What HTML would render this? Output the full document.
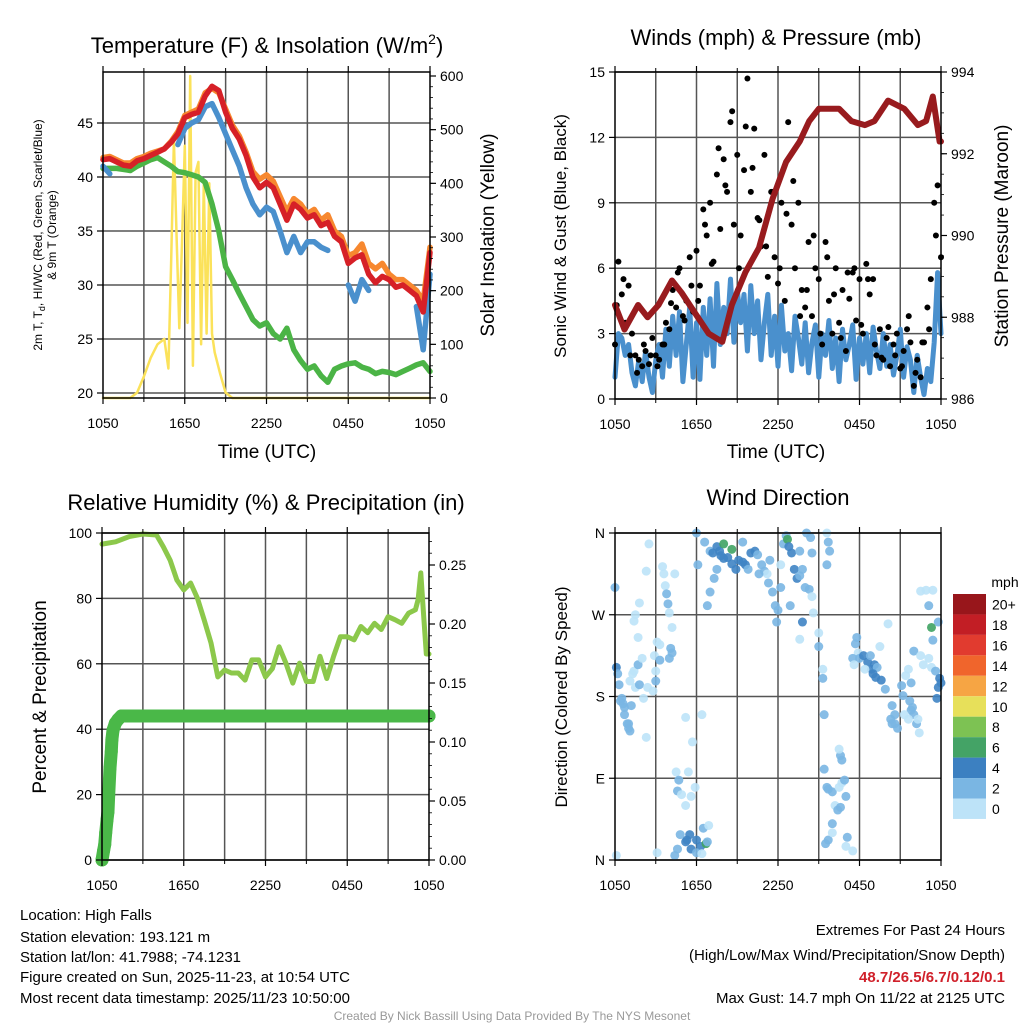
<!DOCTYPE html>
<html><head><meta charset="utf-8"><style>
html,body{margin:0;padding:0;background:#fff;}
svg{display:block;font-family:"Liberation Sans",sans-serif;}
</style></head><body>
<svg id="chart" width="1024" height="1024" viewBox="0 0 1024 1024">
<rect width="1024" height="1024" fill="#fff"/>
<g id="grids"></g>
<g id="series"></g>
<g id="frames"></g>
<g id="labels" fill="#000">
<text x="267" y="53" font-size="22" text-anchor="middle">Temperature (F) &amp; Insolation (W/m<tspan font-size="14" dy="-9">2</tspan><tspan dy="9">)</tspan></text>
<text x="776" y="45" font-size="22" text-anchor="middle">Winds (mph) &amp; Pressure (mb)</text>
<text x="266" y="510" font-size="22" text-anchor="middle">Relative Humidity (%) &amp; Precipitation (in)</text>
<text x="778" y="505" font-size="22" text-anchor="middle">Wind Direction</text>
<text transform="translate(42,235) rotate(-90)" font-size="12" text-anchor="middle">2m T, T<tspan font-size="9" dy="3">d</tspan><tspan dy="-3">, HI/WC (Red, Green, Scarlet/Blue)</tspan></text>
<text transform="translate(56,235) rotate(-90)" font-size="12" text-anchor="middle">&amp; 9m T (Orange)</text>
<text transform="translate(494,235) rotate(-90)" font-size="19" text-anchor="middle">Solar Insolation (Yellow)</text>
<text x="267" y="458" font-size="19" text-anchor="middle">Time (UTC)</text>
<text x="776" y="458" font-size="19" text-anchor="middle">Time (UTC)</text>
<text transform="translate(566,236) rotate(-90)" font-size="17" text-anchor="middle">Sonic Wind &amp; Gust (Blue, Black)</text>
<text transform="translate(1008,236) rotate(-90)" font-size="19" text-anchor="middle">Station Pressure (Maroon)</text>
<text transform="translate(46,697) rotate(-90)" font-size="19" text-anchor="middle">Percent &amp; Precipitation</text>
<text transform="translate(567,697) rotate(-90)" font-size="17" text-anchor="middle">Direction (Colored By Speed)</text>
<g font-size="15">
<text x="20" y="920">Location: High Falls</text>
<text x="20" y="942">Station elevation: 193.121 m</text>
<text x="20" y="962">Station lat/lon: 41.7988; -74.1231</text>
<text x="20" y="982">Figure created on Sun, 2025-11-23, at 10:54 UTC</text>
<text x="20" y="1003">Most recent data timestamp: 2025/11/23 10:50:00</text>
</g>
<g font-size="15" text-anchor="end">
<text x="1005" y="935">Extremes For Past 24 Hours</text>
<text x="1005" y="960">(High/Low/Max Wind/Precipitation/Snow Depth)</text>
<text x="1005" y="982" fill="#d0202a" font-weight="bold">48.7/26.5/6.7/0.12/0.1</text>
<text x="1005" y="1003">Max Gust: 14.7 mph On 11/22 at 2125 UTC</text>
</g>
<text x="512" y="1020" font-size="12" fill="#999" text-anchor="middle">Created By Nick Bassill Using Data Provided By The NYS Mesonet</text>
</g>
</svg>
<script>
// ---------- data ----------
var xTickLabels = ["1050","1650","2250","0450","1050"];
var half = [0,0.5,1,1.5,2,2.5,3,3.5,4,4.5,5,5.5,6,6.5,7,7.5,8,8.5,9,9.5,10,10.5,11,11.5,12,12.5,13,13.5,14,14.5,15,15.5,16,16.5,17,17.5,18,18.5,19,19.5,20,20.5,21,21.5,22,22.5,23,23.5,24];
var tempRed = [41.6,41.7,41.4,41.1,41.0,41.5,41.7,42.0,42.3,42.6,43.2,44.0,45.5,45.8,46.0,47.5,48.4,48.0,46.0,44.5,43.5,42.0,40.0,39.0,39.5,39.0,37.5,36.0,37.5,37.0,36.2,36.5,35.5,35.8,34.5,34.0,32.0,32.5,32.8,31.0,30.2,30.8,30.5,29.8,30.0,29.5,29.0,27.5,33.0];
var temp9m = [41.8,41.9,41.6,41.3,41.3,41.7,41.9,42.2,42.4,42.6,43.3,44.2,45.7,46.0,46.3,47.8,48.2,47.8,46.3,44.8,43.8,42.3,40.5,39.8,40.2,39.6,38.2,36.8,38.0,37.5,36.6,37.0,36.0,36.5,35.0,34.5,32.7,33.0,33.8,32.0,31.5,32.0,31.0,30.5,30.5,30.0,29.5,28.5,33.5];
var windChill = [41.0,40.3,null,null,null,null,null,null,null,null,null,43.0,44.5,45.0,45.3,46.5,46.8,45.5,44.0,42.5,41.0,39.0,37.5,36.5,37.2,36.8,35.0,33.0,34.5,33.0,34.0,34.0,33.5,33.2,null,null,30.0,28.5,30.5,29.5,null,null,null,28.5,null,null,28.0,24.0,31.0];
var dewpoint = [40.8,40.8,40.8,40.7,40.6,41.0,41.3,41.6,41.8,41.4,41.0,40.5,40.4,40.2,40.0,39.5,37.5,35,31.7,30.5,29.2,28,26.8,26.2,26.5,25.5,25.0,26.0,24.0,23.0,22.2,22.5,21.6,21.0,22.2,22.5,22.7,22.8,22.4,22.2,21.8,22.0,21.9,21.7,22.0,22.3,22.6,22.8,22.0];
var solarT = [0,2,2.5,3,3.5,4,4.5,4.8,5.0,5.2,5.4,5.6,5.8,6.0,6.2,6.4,6.6,6.8,7.0,7.2,7.4,7.6,7.8,8.0,8.2,8.6,9.0,9.5,10,24];
var solar = [0,0,10,40,75,100,110,55,250,480,300,130,290,470,140,600,60,420,440,100,400,120,400,120,85,45,10,0,0,0];
var tempTicks = [20,25,30,35,40,45];
var solarTicks = [0,100,200,300,400,500,600];

var sonic = [1.0,3.0,2.8,2.0,2.5,1.2,0.6,1.8,0.8,2.2,1.0,0.3,1.8,2.5,1.0,3.2,1.5,3.8,2.0,4.0,0.8,2.5,4.2,1.0,3.5,0.9,4.2,2.0,4.6,1.5,5.3,2.5,4.2,3.0,5.5,2.6,5.0,3.5,4.8,2.2,5.2,3.0,4.5,1.8,3.5,4.8,2.0,3.8,1.5,4.3,2.2,3.0,1.3,3.8,2.8,1.6,3.5,1.2,2.6,3.4,1.0,3.0,2.0,3.6,1.4,2.8,0.8,3.2,1.8,2.5,3.4,0.9,2.8,1.6,3.0,1.2,3.3,2.2,1.4,3.0,1.5,2.5,1.1,2.0,3.2,1.0,2.4,1.8,0.3,2.0,1.0,0.2,1.4,0.8,2.6,5.8,3.0];
var gust = [2.5,6.3,4.8,3.5,5.2,3.0,2.0,1.8,1.5,2.2,1.6,2.8,2.0,1.8,2.5,3.5,3.2,5.0,4.2,6.0,3.8,4.5,6.5,4.0,6.8,5.2,8.7,7.5,9.0,6.3,10.3,7.8,11.0,9.5,12.7,8.0,11.2,7.5,10.5,14.7,9.5,12.4,8.3,7.0,11.2,5.6,9.5,6.5,5.3,9.0,4.5,12.7,8.0,6.0,9.0,5.0,4.2,7.2,3.8,6.0,5.5,2.5,7.2,4.5,3.0,6.0,3.5,5.0,2.2,4.6,5.8,3.6,5.5,3.0,6.2,4.8,5.5,2.0,3.2,1.8,2.8,1.5,2.5,3.0,1.4,2.2,3.2,2.6,0.6,1.8,1.0,2.6,4.2,5.5,9.0,9.8,6.5];
var gustB = [4.3,5.5,2.0,1.2,2.5,2.0,1.5,2.5,4.4,5.8,3.6,5.2,4.5,8.0,6.2,11.5,9.8,13.2,6.0,12.5,10.6,8.2,7.0,9.5,6.0,8.5,10.0,3.8,5.0,7.5,3.0,6.5,4.8,2.8,5.8,6.0,3.4,5.5,2.5,1.9,3.3,2.0,1.5,3.8,1.2,2.6,3.2,7.5];
var presT = [0,0.7,1.7,2.4,3.2,4.2,4.9,5.9,6.9,7.9,8.6,9.6,10.6,11.6,12.6,13.6,14.3,15.0,16.5,17.4,18.4,19.1,20.1,21.3,22.3,22.9,23.4,23.9,24];
var pressure = [988.3,987.7,988.3,988.0,988.3,988.9,988.6,988.1,987.6,987.4,988.3,989.1,989.7,990.9,991.8,992.3,992.8,993.1,993.1,992.8,992.7,992.8,993.3,993.1,992.7,992.8,993.4,992.3,992.3];
var windTicks = [0,3,6,9,12,15];
var presTicks = [986,988,990,992,994];

var rhT = [0,1,2,3,4,4.5,5,5.5,6,6.5,7,7.5,8,8.5,9,9.5,10,10.5,11,11.5,12,12.5,13,13.5,14,14.5,15,15.5,16,16.5,17,17.5,18,18.5,19,19.5,20,20.5,21,21.5,22,22.5,23,23.2,23.4,23.6,23.8,24];
var rh = [96.6,97.3,98.9,99.7,99.4,95.8,91.7,85.6,82.6,84.7,80.1,73.4,66.4,56,58.1,57.2,57.2,55,61.2,61.2,56,58.5,65.2,60.2,54.1,60.2,54.6,54.6,62.3,55.5,62.3,68.3,68.3,67.3,71.4,69.5,72.4,70.5,74.4,73.5,72.4,75.5,76.5,79.6,87.8,75,63,63];
var precipT = [0,0.12,0.2,0.27,0.37,0.44,0.49,0.59,0.68,0.73,0.81,0.98,1.17,1.42,24];
var precip = [0,0.008,0.013,0.023,0.034,0.041,0.055,0.078,0.092,0.102,0.110,0.116,0.119,0.122,0.122];
var rhTicks = [0,20,40,60,80,100];
var precipTicks = [0,0.05,0.10,0.15,0.20,0.25];
var precipTickLabels = ["0.00","0.05","0.10","0.15","0.20","0.25"];

var dirTickLabels = ["N","E","S","W","N"];
var dirTickVals = [0,90,180,270,360];
var dirT = [0,0.1,0.2,0.3,0.5,0.6,0.7,0.9,1.0,1.2,1.1,1.3,1.4,1.5,1.7,1.8,2.0,1.7,1.5,1.4,1.8,2.3,2.5,2.4,2.1,2.8,2.9,3.0,3.1,3.3,3.5,3.6,3.7,3.8,3.9,4.0,4.2,4.4,4.1,4.0,4.2,3.3,3.0,
4.5,4.7,4.6,4.9,5.4,5.6,5.2,5.9,4.8,5.3,5.2,5.5,5.6,6.0,6.3,6.5,6.7,6.8,6.9,6.0,4.6,4.4,6.4,3.1,0.1,
0.4,0.7,1.0,1.1,2.3,5.2,6.4,5.7,
6.0,6.6,6.1,7.0,7.2,7.5,7.7,7.8,8.0,8.3,8.6,8.9,9.1,9.4,9.6,9.8,10.0,10.3,10.5,10.8,11.0,11.3,11.6,11.8,12.0,11.9,11.4,11.2,8.0,8.6,7.5,7.3,7.0,6.8,9.4,10.6,12.2,12.4,12.6,12.7,12.8,13.0,13.2,13.4,13.6,13.8,13.6,14.1,14.4,14.5,14.0,14.3,14.5,14.6,13.8,13.6,12.9,12.2,
15.0,15.0,15.3,15.3,15.4,15.6,15.7,15.8,15.6,
15.4,15.6,15.7,16.0,16.2,16.4,16.6,16.5,16.7,16.9,16.7,16.6,16.5,17.0,16.0,15.7,15.5,17.1,17.0,17.5,16.0,
17.8,17.7,17.9,18.0,18.3,18.6,18.8,18.9,19.1,19.3,19.0,19.2,19.6,19.9,20.1,19.5,17.5,17.6,18.4,20.4,20.3,20.4,20.6,20.6,20.8,21.1,21.2,21.4,21.6,21.7,21.8,21.9,22.0,22.2,22.3,22.4,21.6,21.3,
22.0,22.5,22.7,23.1,23.3,23.6,23.9,23.8,24.0,23.7,23.3,23.4,23.8,23.1,22.5,22.9,23.4,21.8];
var dirDeg = [300,212,205,193,178,172,168,150,145,170,197,205,208,190,215,193,222,245,270,263,283,318,348,190,178,186,225,208,240,220,323,315,302,293,282,272,256,315,233,222,228,237,197,
97,88,76,72,97,70,60,80,28,22,20,28,12,22,15,35,18,20,38,8,12,5,7,8,5,
175,160,150,142,135,157,160,130,
360,350,325,340,338,345,340,335,332,333,326,320,330,328,325,320,338,340,336,325,318,305,295,280,275,262,330,315,348,342,320,310,295,280,350,315,325,348,357,353,345,338,320,310,313,320,340,360,355,338,300,298,290,272,262,243,280,300,
250,235,210,200,160,360,350,340,325,
100,80,78,75,60,55,58,80,85,88,110,115,122,70,40,22,18,25,15,10,30,
245,238,228,222,225,218,225,210,215,212,205,201,198,188,260,235,222,215,210,170,155,150,150,160,145,192,181,203,210,175,165,168,160,150,155,140,155,160,
230,225,215,222,212,208,200,190,195,178,256,242,262,280,296,297,297,195];
var dirSpeedClass = [1,2,1,1,1,1,1,1,1,1,0,0,0,0,1,1,0,0,0,0,0,0,0,0,0,0,0,0,0,1,0,0,0,1,1,0,0,0,1,1,1,0,1,
0,1,1,0,0,0,0,0,1,2,2,2,2,2,2,1,3,1,0,1,1,1,0,0,0,
1,1,1,1,0,0,0,0,
1,1,1,1,2,2,2,2,2,2,2,2,2,2,2,1,2,2,1,1,1,1,1,1,1,1,1,0,3,3,1,1,1,1,1,1,0,1,1,3,2,2,2,2,1,1,1,1,1,1,1,1,0,0,2,0,1,1,0,
1,0,1,1,0,1,1,1,1,
1,1,1,0,1,1,0,0,1,1,1,0,1,1,1,1,1,0,0,0,1,
1,0,1,2,2,1,2,2,1,2,2,2,1,0,0,1,0,0,1,1,1,1,1,1,1,1,0,0,1,1,1,1,1,0,0,0,0,1,
0,0,0,0,1,2,2,2,2,3,1,1,1,0,0,0,1,1];
var speedColors = ["#bde3f8","#7ab6e3","#3f84c4","#3fa363"];
var barLabels = ["20+","18","16","14","12","10","8","6","4","2","0"];
var barColors = ["#98161b","#c21e25","#e13b2f","#f0652c","#f6a544","#e7e05a","#7dc253","#44a366","#3c80c1","#7ab6e3","#bde3f8"];

// ---------- helpers ----------
var NS = "http://www.w3.org/2000/svg";
function mk(tag, parent, attrs) {
  var e = document.createElementNS(NS, tag);
  for (var k in attrs) e.setAttribute(k, attrs[k]);
  parent.appendChild(e);
  return e;
}
var G = document.getElementById("grids"), S = document.getElementById("series"), F = document.getElementById("frames");
function xs(p, t) { return p.x0 + t / 24 * (p.x1 - p.x0); }
function lin(d0, d1, r0, r1) { return function (v) { return r0 + (v - d0) / (d1 - d0) * (r1 - r0); }; }

var P1 = {x0:103,x1:430,y0:72,y1:398}, P2 = {x0:615,x1:941,y0:72,y1:399},
    P3 = {x0:102,x1:429,y0:533,y1:860}, P4 = {x0:615,x1:941,y0:533,y1:860};
var yTemp = lin(20,45,393,123), ySol = lin(0,600,398,76);
var yWind = lin(0,15,399,72), yPres = lin(986,994,399,72);
var yRH = lin(0,100,860,533), yPr = lin(0,0.25,860,565);
var yDir = lin(0,360,860,533);

function panelFrame(p, name) {
  for (var h = 3; h < 24; h += 3) {
    var gl = mk("line", G, {x1:xs(p,h), x2:xs(p,h), y1:p.y0, y2:p.y1, stroke:"#555", "stroke-width":1.5});
    
    
  }
  var fr = mk("rect", F, {x:p.x0, y:p.y0, width:p.x1-p.x0, height:p.y1-p.y0, fill:"none", stroke:"#000", "stroke-width":1.5});
  
  
  for (var i = 0; i < xTickLabels.length; i++) {
    var x = xs(p, i * 6);
    mk("line", F, {x1:x, x2:x, y1:p.y1, y2:p.y1+6, stroke:"#000", "stroke-width":1.2});
    mk("line", F, {x1:x, x2:x, y1:p.y0, y2:p.y0-6, stroke:"#000", "stroke-width":1.2});
    var tx = mk("text", F, {x:x, y:p.y1+30, "font-size":14, "text-anchor":"middle"});
    tx.textContent = xTickLabels[i];
    
    
  }
  for (var h2 = 3; h2 < 24; h2 += 6) {
    mk("line", F, {x1:xs(p,h2), x2:xs(p,h2), y1:p.y1, y2:p.y1+4, stroke:"#000", "stroke-width":1});
    mk("line", F, {x1:xs(p,h2), x2:xs(p,h2), y1:p.y0, y2:p.y0-4, stroke:"#000", "stroke-width":1});
  }
}
function hgrid(p, vals, ys, name) {
  for (var i = 0; i < vals.length; i++) {
    var y = ys(vals[i]);
    var gl = mk("line", G, {x1:p.x0, x2:p.x1, y1:y, y2:y, stroke:"#555", "stroke-width":1.5});
    
    
  }
}
function yTicks(p, vals, labels, ys, side, name) {
  for (var i = 0; i < vals.length; i++) {
    var y = ys(vals[i]);
    var x = side === "l" ? p.x0 : p.x1;
    mk("line", F, {x1:x, x2:side === "l" ? x-6 : x+6, y1:y, y2:y, stroke:"#000", "stroke-width":1.2});
    var tx = mk("text", F, {x: side === "l" ? x-10 : x+10, y:y+5, "font-size":14, "text-anchor": side === "l" ? "end" : "start"});
    tx.textContent = labels[i];
    
    
  }
}
function minorTicks(p, d0, d1, step, ys) {
  for (var v = d0; v <= d1 + 1e-9; v += step) {
    var y = ys(v);
    if (y < p.y0 - 0.5 || y > p.y1 + 0.5) continue;
    mk("line", F, {x1:p.x1, x2:p.x1+3, y1:y, y2:y, stroke:"#000", "stroke-width":0.8});
  }
}
function pathFrom(p, T, V, ys) {
  var d = "", pen = false;
  for (var i = 0; i < V.length; i++) {
    if (V[i] === null) { pen = false; continue; }
    d += (pen ? "L" : "M") + xs(p, T[i]).toFixed(1) + " " + ys(V[i]).toFixed(1);
    pen = true;
  }
  return d;
}
function line(p, T, V, ys, color, w, name) {
  var e = mk("path", S, {d:pathFrom(p, T, V, ys), fill:"none", stroke:color, "stroke-width":w, "stroke-linejoin":"round", "stroke-linecap":"round"});
  
  
}
function stepTimes(n, step, off) { var a = []; for (var i = 0; i < n; i++) a.push(off + i * step); return a; }

// ---------- panel 1 ----------
panelFrame(P1, "temp");
hgrid(P1, tempTicks, yTemp, "temp");
yTicks(P1, tempTicks, tempTicks.map(String), yTemp, "l", "temp-y");
yTicks(P1, solarTicks, solarTicks.map(String), ySol, "r", "solar-y");
minorTicks(P1, 0, 600, 20, ySol);
line(P1, solarT, solar, ySol, "#fbe25a", 2.5, "solar-insolation-line");
line(P1, half, dewpoint, yTemp, "#4bb446", 5.5, "dewpoint-line");
line(P1, half, temp9m, yTemp, "#f7882f", 5.5, "temp-9m-line");
line(P1, half, windChill, yTemp, "#4a90cd", 5.5, "wind-chill-line");
line(P1, half, tempRed, yTemp, "#d62027", 5.5, "temp-2m-line");

// ---------- panel 2 ----------
panelFrame(P2, "wind");
hgrid(P2, windTicks, yWind, "wind");
yTicks(P2, windTicks, windTicks.map(String), yWind, "l", "wind-y");
yTicks(P2, presTicks, presTicks.map(String), yPres, "r", "pressure-y");
minorTicks(P2, 986, 994, 0.5, yPres);
line(P2, stepTimes(sonic.length, 0.25, 0), sonic, yWind, "#4a90cd", 5, "sonic-wind-line");
var gt = stepTimes(gust.length, 0.25, 0);
for (var i = 0; i < gust.length; i++) {
  var c = mk("circle", S, {cx:xs(P2, gt[i]), cy:yWind(gust[i]), r:3, fill:"#000"});
  
  
}
var gtb = stepTimes(gustB.length, 0.5, 0.125);
for (var i = 0; i < gustB.length; i++) {
  var c = mk("circle", S, {cx:xs(P2, gtb[i]), cy:yWind(gustB[i]), r:3, fill:"#000"});
  
  
}
line(P2, presT, pressure, yPres, "#981b1e", 6, "pressure-line");

// ---------- panel 3 ----------
panelFrame(P3, "rh");
hgrid(P3, rhTicks, yRH, "rh");
yTicks(P3, rhTicks, rhTicks.map(String), yRH, "l", "rh-y");
yTicks(P3, precipTicks, precipTickLabels, yPr, "r", "precip-y");
minorTicks(P3, 0, 0.28, 0.01, yPr);
line(P3, rhT, rh, yRH, "#8cc84b", 5, "relative-humidity-line");
line(P3, precipT, precip, yPr, "#4ab848", 13, "precip-line");
for (var i = 0; i < precip.length; i++) {
  var c = mk("circle", S, {cx:xs(P3, precipT[i]), cy:yPr(precip[i]), r:6.5, fill:"#4ab848"});
  
  
}

// ---------- panel 4 ----------
panelFrame(P4, "direction");
hgrid(P4, dirTickVals, yDir, "direction");
yTicks(P4, dirTickVals, dirTickLabels, yDir, "l", "direction-y");
for (var i = 0; i < dirT.length; i++) {
  var c = mk("circle", S, {cx:xs(P4, dirT[i]), cy:yDir(dirDeg[i]), r:4.5, fill:speedColors[dirSpeedClass[i]], "fill-opacity":0.9});
  
  
}
// colorbar
var cb = mk("g", F, {});


var ut = mk("text", cb, {x:1005, y:587, "font-size":14, "text-anchor":"middle"});
ut.textContent = "mph";
for (var i = 0; i < barColors.length; i++) {
  var y = 594 + i * 20.45;
  var r = mk("rect", cb, {x:953, y:y, width:33, height:20.45, fill:barColors[i]});
  
  
  var t = mk("text", cb, {x:992, y:y+15.5, "font-size":14});
  t.textContent = barLabels[i];
  
  
}
</script>
</body></html>
